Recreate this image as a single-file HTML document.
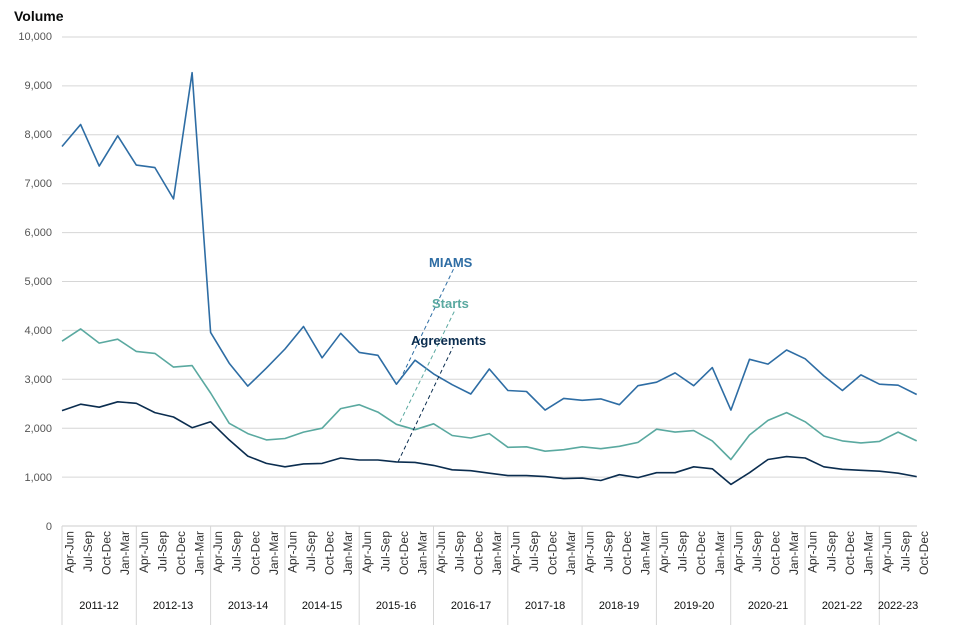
<!DOCTYPE html>
<html><head><meta charset="utf-8"><style>
body{margin:0;background:#fff;}
svg{display:block;font-family:"Liberation Sans",Arial,sans-serif;}
</style></head><body>
<svg id="c" width="960" height="640" viewBox="0 0 960 640">
<text x="14" y="21" font-size="14" font-weight="bold" fill="#0b0c0c">Volume</text>
<g id="grid" stroke="#d6d6d6" stroke-width="1"></g>
<g font-size="11" fill="#555" text-anchor="end">
<text x="52" y="530">0</text><text x="52" y="481">1,000</text><text x="52" y="432">2,000</text><text x="52" y="383">3,000</text><text x="52" y="334">4,000</text><text x="52" y="285">5,000</text><text x="52" y="236">6,000</text><text x="52" y="187">7,000</text><text x="52" y="138">8,000</text><text x="52" y="89">9,000</text><text x="52" y="40">10,000</text>
</g>
<g id="xl" font-size="12" fill="#333" text-anchor="end"></g>
<g font-size="11" fill="#0b0c0c" text-anchor="middle">
<text x="99" y="609">2011-12</text><text x="173" y="609">2012-13</text><text x="248" y="609">2013-14</text><text x="322" y="609">2014-15</text><text x="396" y="609">2015-16</text><text x="471" y="609">2016-17</text><text x="545" y="609">2017-18</text><text x="619" y="609">2018-19</text><text x="694" y="609">2019-20</text><text x="768" y="609">2020-21</text><text x="842" y="609">2021-22</text><text x="898" y="609">2022-23</text>
</g>
<g id="lines" fill="none" stroke-width="1.6" stroke-linejoin="round"></g>
<g stroke-dasharray="4,3" stroke-width="1">
<line x1="400" y1="380" x2="455" y2="266" stroke="#2e6da4"/>
<line x1="400" y1="422" x2="455" y2="310" stroke="#5aa9a0"/>
<line x1="398" y1="462" x2="453" y2="347" stroke="#0b2d4f"/>
</g>
<g font-size="13" font-weight="bold">
<text x="429" y="267" fill="#2e6da4">MIAMS</text>
<text x="432" y="308" fill="#5aa9a0">Starts</text>
<text x="411" y="345" fill="#0b2d4f">Agreements</text>
</g>
</svg>
<script>
var NS="http://www.w3.org/2000/svg";
function el(p,t,a){var e=document.createElementNS(NS,t);for(var k in a)e.setAttribute(k,a[k]);p.appendChild(e);return e;}
var g=document.getElementById("grid");
for(var i=1;i<=10;i++){var y=526-48.9*i;el(g,"line",{x1:62,x2:917,y1:y,y2:y});}
el(g,"line",{x1:62,x2:917,y1:526,y2:526,stroke:"#ccc"});
for(var k=0;k<12;k++){var x=62+74.3*k;el(g,"line",{x1:x,x2:x,y1:526,y2:625});}
var q=["Apr-Jun","Jul-Sep","Oct-Dec","Jan-Mar"];
var xl=document.getElementById("xl");
function X(i){return 62+18.58*i;}
for(var i=0;i<47;i++){var x=X(i)+11.5;var t=el(xl,"text",{transform:"translate("+x+",531) rotate(-90)"});t.textContent=q[i%4];}
var M=[7760,8210,7360,7980,7380,7330,6690,9270,3960,3330,2860,3230,3620,4080,3440,3940,3550,3490,2900,3390,3110,2890,2700,3210,2770,2750,2370,2610,2570,2600,2480,2870,2940,3130,2870,3240,2370,3410,3310,3600,3420,3070,2770,3090,2900,2880,2690];
var S=[3780,4030,3740,3820,3570,3530,3250,3280,2720,2100,1890,1760,1790,1920,2000,2400,2480,2330,2080,1970,2090,1850,1800,1890,1610,1620,1530,1560,1620,1580,1630,1710,1980,1920,1950,1740,1360,1860,2160,2320,2130,1840,1740,1700,1730,1920,1740];
var A=[2360,2490,2430,2540,2510,2320,2230,2010,2130,1760,1430,1280,1210,1270,1280,1390,1350,1350,1310,1300,1240,1150,1130,1080,1030,1030,1010,970,980,930,1050,990,1090,1090,1210,1170,850,1090,1360,1420,1390,1210,1160,1140,1120,1080,1010];
var L=document.getElementById("lines");
[[A,"#0b2d4f"],[S,"#5aa9a0"],[M,"#2e6da4"]].forEach(function(d){
var p=d[0].map(function(v,i){return X(i).toFixed(1)+","+(526-v*0.0489).toFixed(1);}).join(" ");
el(L,"polyline",{points:p,stroke:d[1]});});
</script>
</body></html>
